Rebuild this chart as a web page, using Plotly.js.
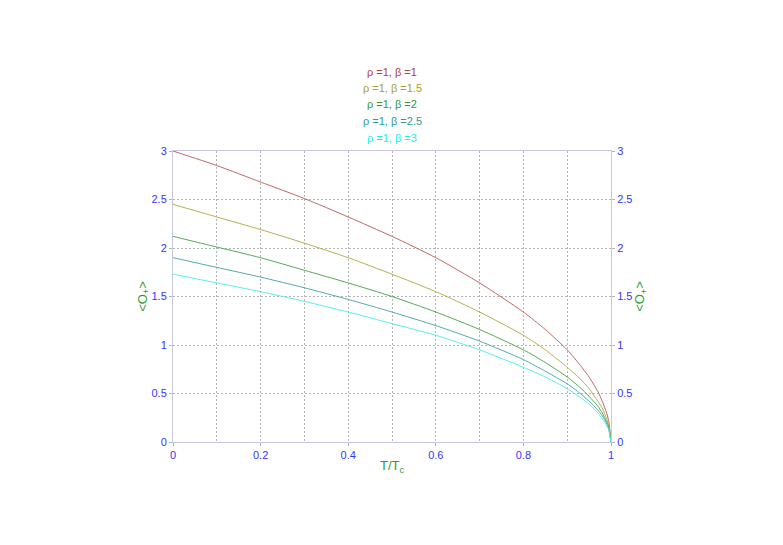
<!DOCTYPE html>
<html>
<head>
<meta charset="utf-8">
<script src="https://cdn.plot.ly/plotly-3.0.1.min.js"></script>
<style>html,body{margin:0;padding:0;background:#fff;}</style>
</head>
<body>
<div id="chart" style="width:783px;height:545px;"></div>
<script>
// Temperature ratio T/Tc
var tValues = [0, 0.1, 0.2, 0.3, 0.4, 0.5, 0.6, 0.7, 0.8, 0.85, 0.9, 0.93, 0.95, 0.97, 0.98, 0.99, 0.995, 1];
// Condensate <O+> for rho = 1 and different beta
var beta1   = [3.00, 2.85, 2.68, 2.51, 2.32, 2.12, 1.90, 1.64, 1.34, 1.16, 0.95, 0.79, 0.67, 0.52, 0.42, 0.30, 0.21, 0];
var beta1_5 = [2.45, 2.32, 2.19, 2.05, 1.90, 1.73, 1.55, 1.34, 1.10, 0.95, 0.77, 0.65, 0.55, 0.42, 0.35, 0.24, 0.17, 0];
var beta2   = [2.12, 2.01, 1.90, 1.77, 1.64, 1.50, 1.34, 1.16, 0.95, 0.82, 0.67, 0.56, 0.47, 0.37, 0.30, 0.21, 0.15, 0];
var beta2_5 = [1.90, 1.80, 1.70, 1.59, 1.47, 1.34, 1.20, 1.04, 0.85, 0.73, 0.60, 0.50, 0.42, 0.33, 0.27, 0.19, 0.13, 0];
var beta3   = [1.73, 1.64, 1.55, 1.45, 1.34, 1.22, 1.10, 0.95, 0.77, 0.67, 0.55, 0.46, 0.39, 0.30, 0.24, 0.17, 0.12, 0];
var seriesLabels = ["ρ =1, β =1", "ρ =1, β =1.5", "ρ =1, β =2", "ρ =1, β =2.5", "ρ =1, β =3"];
var xTickVals = [0, 0.2, 0.4, 0.6, 0.8, 1];
var xTickText = ["0", "0.2", "0.4", "0.6", "0.8", "1"];
var yTickVals = [0, 0.5, 1, 1.5, 2, 2.5, 3];
var yTickText = ["0", "0.5", "1", "1.5", "2", "2.5", "3"];

var textColors = ["#b04040", "#a8a030", "#339933", "#2f9a9a", "#22eeee"];
var lineColors = ["#c06868", "#b8b050", "#55aa55", "#55aaaa", "#55f0f0"];
var series = [beta1, beta1_5, beta2, beta2_5, beta3];

var traces = series.map(function (s, i) {
  return {
    x: tValues, y: s, type: "scatter", mode: "lines",
    name: seriesLabels[i], line: {color: lineColors[i], width: 1, shape: "spline", smoothing: 0.6},
    hoverinfo: "skip"
  };
});
// invisible trace so the right-hand axis is drawn
traces.push({x: [0, 1], y: [0, 3], yaxis: "y2", mode: "lines", line: {width: 0}, opacity: 0, showlegend: false, hoverinfo: "skip"});

var font = "Liberation Sans, Arial, sans-serif";
var tickFont = {family: font, size: 11, color: "#3535ff"};
var titleFont = {family: font, size: 13, color: "#2e9a2e"};
var gridDash = "2px,2px";
var axisCommon = {
  showline: true, linecolor: "#c8c8e6", linewidth: 1,
  showgrid: true, gridcolor: "#b4b4b4", griddash: gridDash, gridwidth: 1,
  zeroline: false, ticks: "outside", ticklen: 3, tickcolor: "#b4b4b4",
  tickfont: tickFont, tickmode: "array"
};

var annotations = seriesLabels.map(function (lab, i) {
  var ys = [1.270, 1.215, 1.160, 1.102, 1.046];
  return {
    text: lab, xref: "paper", yref: "paper", x: 0.5, y: ys[i],
    xanchor: "center", yanchor: "middle", showarrow: false,
    font: {family: font, size: 11, color: textColors[i]}
  };
});

var layout = {
  width: 783, height: 545,
  margin: {l: 173, r: 172, t: 151, b: 103},
  paper_bgcolor: "#ffffff", plot_bgcolor: "#ffffff",
  showlegend: false,
  xaxis: Object.assign({}, axisCommon, {
    range: [0, 1], tickvals: xTickVals, ticktext: xTickText, mirror: true,
    minor: {dtick: 0.1, showgrid: true, gridcolor: "#b4b4b4", griddash: gridDash, ticks: ""},
    title: {text: "T/T<sub>c</sub>", font: titleFont, standoff: 0}
  }),
  yaxis: Object.assign({}, axisCommon, {
    range: [0, 3], tickvals: yTickVals, ticktext: yTickText, mirror: true,
    title: {text: "&lt;O<sub>+</sub>&gt;", font: titleFont, standoff: 0}
  }),
  yaxis2: Object.assign({}, axisCommon, {
    range: [0, 3], tickvals: yTickVals, ticktext: yTickText,
    overlaying: "y", side: "right", anchor: "x", showgrid: false,
    title: {text: "&lt;O<sub>+</sub>&gt;", font: titleFont, standoff: 0}
  }),
  annotations: annotations
};

Plotly.newPlot("chart", traces, layout, {displayModeBar: false, staticPlot: true});
</script>
</body>
</html>
